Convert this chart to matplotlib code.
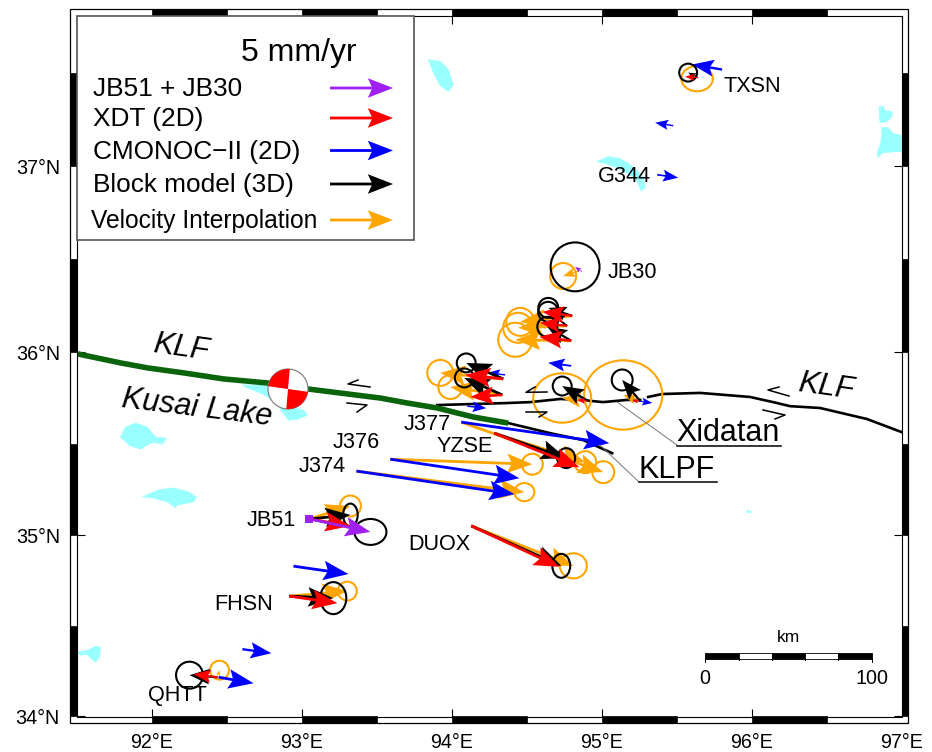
import numpy as np
import matplotlib
matplotlib.use("Agg")
import matplotlib.pyplot as plt
from matplotlib.collections import EllipseCollection
from matplotlib.patches import Circle, Polygon, Rectangle, Wedge
from matplotlib.transforms import IdentityTransform

plt.rcParams['font.family'] = ['Liberation Sans', 'DejaVu Sans']

# pixels per mm/yr for the vectors and error ellipses
SCALE = 12.6
PURPLE = '#a020f0'
ORANGE = '#ffa500'
LAKE = '#99ffff'
GREEN = '#0b640b'

# Velocity interpolation: JB51 FHSN QHTT J374 J376 J377 YZSE DUOX JB30 + near-fault sites, TXSN
orange_lon = [93.053, 92.919, 92.44, 93.366, 93.592, 94.065, 94.285, 94.132, 94.851,
              94.805, 94.771, 94.798, 94.345, 94.339, 94.911, 95.258, 95.644]
orange_lat = [35.09, 34.666, 34.218, 35.352, 35.417, 35.619, 35.559, 35.052, 36.438,
              36.196, 36.142, 36.061, 35.854, 35.767, 35.734, 35.734, 37.473]
orange_ve = [3.25, 4.60, 0.16, 13.33, 11.27, 11.27, 7.22, 8.10, -1.27,
             -4.13, -3.89, -4.44, -5.0, -4.13, -2.06, -1.35, -0.08]
orange_vn = [1.03, 0.40, 0.56, -1.67, -0.40, -3.97, -2.30, -3.17, -0.40,
             -0.48, -0.16, 0.08, 0.48, 0.63, 0.24, 0.48, -0.08]
orange_sx = [0.83, 0.75, 0.75, 0.79, 0.83, 0.87, 0.87, 1.07, 1.03,
             1.11, 1.19, 1.35, 1.03, 0.95, 2.3, 3.1, 1.25]
orange_sy = [0.83, 0.75, 0.75, 0.72, 0.83, 0.87, 0.87, 1.0, 1.03,
             1.11, 1.19, 1.35, 1.03, 0.95, 1.96, 2.75, 1.0]

# Block model (3D)
black_lon = [93.053, 92.919, 92.44, 94.285, 94.132, 94.805, 94.771, 94.798,
             94.345, 94.339, 94.911, 95.258, 95.644]
black_lat = [35.09, 34.666, 34.218, 35.559, 35.052, 36.196, 36.142, 36.061,
             35.854, 35.767, 35.734, 35.734, 37.473]
black_ve = [3.25, 3.49, -2.22, 5.71, 7.14, -1.90, -1.51, -1.90, -2.94, -3.02, -2.06, -1.43, -0.79]
black_vn = [0.32, -0.16, 0.16, -1.98, -3.17, 0.63, 1.11, 1.11, 1.27, 1.35, 1.19, 1.67, 0.40]
black_sx = [0.58, 1.03, 1.07, 0.71, 0.71, 0.79, 0.79, 0.79, 0.75, 0.75, 0.75, 0.83, 0.71]
black_sy = [0.90, 1.27, 1.07, 0.79, 0.95, 0.79, 0.79, 0.79, 0.75, 0.75, 0.75, 0.83, 0.71]

# XDT (2D)
red_lon = black_lon
red_lat = black_lat
red_ve = [3.25, 3.81, -1.90, 6.75, 6.98, -2.38, -2.14, -2.54, -3.02, -2.54, -0.87, -0.63, -1.03]
red_vn = [-0.56, -0.56, 0.24, -2.70, -3.25, 0.32, 0.24, 0.32, 0.32, -0.16, 0.08, 0.0, 0.08]

# CMONOC-II (2D)
blue_lon = [92.946, 92.606, 92.733, 92.447, 93.366, 93.592, 94.065, 94.358, 94.105,
            94.798, 95.245, 95.804, 95.478, 95.371]
blue_lat = [34.831, 34.373, 34.461, 34.218, 35.352, 35.417, 35.619, 35.876, 35.706,
            35.925, 35.734, 37.516, 37.217, 36.955]
blue_ve = [4.37, 2.30, 0.06, 2.78, 12.54, 10.24, 11.75, -1.43, 1.51, -1.83, 1.11, -2.38, -1.43, 1.67]
blue_vn = [-0.63, -0.32, 0.0, -0.48, -1.83, -1.51, -1.67, 0.16, -0.16, 0.24, -0.16, 0.40, 0.24, -0.24]

# JB51 + JB30
purple_lon = [93.053, 94.871]
purple_lat = [35.09, 36.433]
purple_ve = [4.84, -0.56]
purple_vn = [-1.03, 0.40]
purple_sx = [1.27, 1.94]
purple_sy = [1.03, 1.94]

# Faults
green_fault_lon = [91.507, 91.793, 91.973, 92.213, 92.480, 92.773, 93.046, 93.526, 93.706, 93.905, 94.145, 94.378]
green_fault_lat = [35.990, 35.941, 35.914, 35.887, 35.854, 35.832, 35.799, 35.750, 35.723, 35.696, 35.647, 35.614]
klf_a_lon = [93.905, 94.372, 94.525, 94.725, 94.858, 95.011, 95.171, 95.258]
klf_a_lat = [35.712, 35.723, 35.728, 35.745, 35.740, 35.728, 35.740, 35.740]
klf_b_lon = [95.311, 95.404, 95.658, 95.990, 96.144, 96.257, 96.457, 96.770, 97.0]
klf_b_lat = [35.756, 35.772, 35.778, 35.756, 35.728, 35.706, 35.696, 35.636, 35.565]
klpf_lon = [94.378, 94.658, 94.878, 95.071]
klpf_lat = [35.614, 35.559, 35.521, 35.450]

# Lakes
lakes = [
    ([93.845, 93.925, 93.979, 94.012, 93.979, 93.925, 93.885],
     [37.569, 37.559, 37.516, 37.436, 37.399, 37.431, 37.489]),
    ([94.971, 95.045, 95.125, 95.211, 95.278, 95.291, 95.264, 95.238, 95.191, 95.105, 95.025],
     [37.025, 37.052, 37.041, 36.998, 36.944, 36.885, 36.869, 36.918, 36.955, 36.993, 37.015]),
    ([96.850, 96.877, 96.890, 96.937, 96.937, 96.903, 96.857],
     [37.319, 37.319, 37.297, 37.292, 37.265, 37.239, 37.233]),
    ([96.870, 96.910, 96.943, 97.0, 97.0, 96.877, 96.843, 96.837, 96.863],
     [37.207, 37.207, 37.176, 37.165, 37.079, 37.074, 37.047, 37.068, 37.128]),
    ([92.606, 92.773, 92.926, 93.013, 93.039, 92.979, 92.913, 92.873, 92.813, 92.726, 92.626],
     [35.821, 35.821, 35.701, 35.685, 35.657, 35.636, 35.630, 35.674, 35.740, 35.777, 35.810]),
    ([91.793, 91.827, 91.893, 91.973, 92.027, 92.100, 92.073, 92.007, 91.947, 91.927, 91.860],
     [35.537, 35.592, 35.614, 35.592, 35.537, 35.532, 35.499, 35.510, 35.483, 35.472, 35.489]),
    ([91.940, 92.047, 92.147, 92.247, 92.300, 92.280, 92.173, 92.160, 92.107, 92.013],
     [35.211, 35.249, 35.260, 35.238, 35.210, 35.183, 35.167, 35.151, 35.183, 35.205]),
    ([91.507, 91.574, 91.627, 91.660, 91.654, 91.627, 91.594, 91.574, 91.527],
     [34.356, 34.367, 34.389, 34.384, 34.329, 34.301, 34.323, 34.345, 34.340]),
    ([95.964, 96.004, 95.977], [35.139, 35.128, 35.123]),
]

lon_ticks = [92, 93, 94, 95, 96, 97]
lat_ticks = [34, 35, 36, 37]
lon_labels = ['92°E', '93°E', '94°E', '95°E', '96°E', '97°E']
lat_labels = ['34°N', '35°N', '36°N', '37°N']

legend_names = ['JB51 + JB30', 'XDT (2D)', 'CMONOC\u2212II (2D)', 'Block model (3D)', 'Velocity Interpolation']
legend_colors = [PURPLE, 'red', 'blue', 'black', ORANGE]
legend_y = [88, 118, 150.5, 184, 220]
legend_text_x = [93, 93, 93, 93, 91]

arrow_style = dict(angles='uv', scale_units='dots', scale=1 / SCALE, units='dots', width=2.8,
                   headwidth=7, headlength=9, headaxislength=7.6, minshaft=1.4, minlength=0,
                   linewidth=0, pivot='tail')


def merc(lat):
    return np.log(np.tan(np.pi / 4 + np.radians(lat) / 2))


def merc_inv(y):
    return np.degrees(2 * np.arctan(np.exp(y)) - np.pi / 2)


fig = plt.figure(figsize=(9.32, 7.52), dpi=100)
ax = fig.add_axes([76.5 / 932, 35.5 / 752, 825 / 932, 700.5 / 752])
ax.set_xlim(91.5, 97)
ax.set_yscale('function', functions=(merc, merc_inv))
ax.set_ylim(34, 37.8)
ax.set_xticks(lon_ticks, lon_labels, fontsize=14.2)
ax.set_yticks(lat_ticks, lat_labels, fontsize=14.2)
ax.minorticks_off()
ax.tick_params(direction='in', length=5.8, width=0.8, top=True, right=True, pad=12)
for s in ax.spines.values():
    s.set_linewidth(0.8)

# full figure axes in pixels, y down, for frame, legend and annotations
ov = fig.add_axes([0, 0, 1, 1])
ov.set_xlim(0, 932)
ov.set_ylim(752, 0)
ov.axis('off')


def to_px(lon, lat):
    x, y = ax.transData.transform((lon, lat))
    return x, 752 - y


def vectors(lon, lat, ve, vn, color, z):
    ax.quiver(lon, lat, ve, vn, color=color, zorder=z, **arrow_style)


def ellipses(lon, lat, ve, vn, sx, sy, color, z):
    xy = ax.transData.transform(np.column_stack([lon, lat])) + SCALE * np.column_stack([ve, vn])
    ec = EllipseCollection(2 * SCALE * np.array(sx), 2 * SCALE * np.array(sy), np.zeros(len(sx)),
                           units='dots', offsets=xy, offset_transform=IdentityTransform(),
                           facecolors='none', edgecolors=color, linewidths=1.5, zorder=z)
    ax.add_collection(ec)


# lakes and faults
for la_lon, la_lat in lakes:
    ax.add_patch(Polygon(np.column_stack([la_lon, la_lat]), closed=True, fc=LAKE, ec=LAKE, lw=0.5, zorder=1))
ax.plot(klf_a_lon, klf_a_lat, color='k', lw=1.9, zorder=2)
ax.plot(klf_b_lon, klf_b_lat, color='k', lw=1.9, zorder=2)
ax.plot(klpf_lon, klpf_lat, color='k', lw=1.9, zorder=2)
ax.plot(green_fault_lon, green_fault_lat, color=GREEN, lw=4, solid_capstyle='butt', zorder=2)

# velocity fields
ellipses(orange_lon, orange_lat, orange_ve, orange_vn, orange_sx, orange_sy, ORANGE, 3)
vectors(orange_lon, orange_lat, orange_ve, orange_vn, ORANGE, 3)
vectors(blue_lon, blue_lat, blue_ve, blue_vn, 'blue', 4)
ellipses(black_lon, black_lat, black_ve, black_vn, black_sx, black_sy, 'black', 5)
vectors(black_lon, black_lat, black_ve, black_vn, 'black', 5)
vectors(red_lon, red_lat, red_ve, red_vn, 'red', 6)
ellipses(purple_lon, purple_lat, purple_ve, purple_vn, purple_sx, purple_sy, 'black', 7)
vectors(purple_lon, purple_lat, purple_ve, purple_vn, PURPLE, 7)
ax.scatter(purple_lon[:1], purple_lat[:1], marker='s', s=32, color=PURPLE, linewidths=0, zorder=8)

# map frame, alternating black and white every half degree
x_left, y_top = to_px(91.5, 37.8)
x_right, y_bot = to_px(97, 34)
ov.add_patch(Rectangle((x_left - 6.5, y_top - 6.5), x_right - x_left + 13, y_bot - y_top + 13,
                       fc='none', ec='k', lw=0.9))
for lon in np.arange(92, 97, 1.0):
    x0, _ = to_px(lon, 34)
    x1, _ = to_px(lon + 0.5, 34)
    ov.add_patch(Rectangle((x0, y_bot), x1 - x0, 6.5, fc='k', ec='k', lw=0.5))
    ov.add_patch(Rectangle((x0, y_top - 6.5), x1 - x0, 6.5, fc='k', ec='k', lw=0.5))
for lat in np.arange(34, 38, 1.0):
    _, y0 = to_px(91.5, lat)
    _, y1 = to_px(91.5, lat + 0.5)
    ov.add_patch(Rectangle((x_left - 6.5, y1), 6.5, y0 - y1, fc='k', ec='k', lw=0.5))
    ov.add_patch(Rectangle((x_right, y1), 6.5, y0 - y1, fc='k', ec='k', lw=0.5))

# legend box
ov.add_patch(Rectangle((77, 16), 337, 224, fc='white', ec='#555555', lw=1.2, zorder=10))
ov.text(299, 53, '5 mm/yr', fontsize=23, ha='center', va='center', zorder=11)
for name, col, yy, xx in zip(legend_names, legend_colors, legend_y, legend_text_x):
    ov.text(xx, yy + 1, name, fontsize=18.9 if xx == 93 else 17.7, ha='left', va='center', zorder=11)
    ov.quiver([330], [yy], [5], [0], color=col, zorder=11, **arrow_style)

# beach ball
ball = (288, 389)
ov.add_patch(Circle(ball, 20, fc='white', ec='#777777', lw=0.8, zorder=9))
ov.add_patch(Wedge(ball, 20, 188, 275, fc='red', ec='none', zorder=9))
ov.add_patch(Wedge(ball, 20, 8, 95, fc='red', ec='none', zorder=9))

# shear sense half arrows
for xs, ys in [([370, 348, 358], [387, 384, 380]), ([347, 367, 357], [403, 405, 412]),
               ([547, 526, 535], [392, 392.3, 387]), ([526, 547, 539], [412, 412, 417]),
               ([789, 768, 779], [396, 390, 387]), ([763, 785, 775], [410, 415, 419])]:
    ov.plot(xs, ys, color='k', lw=1.1, zorder=9)

# station and place labels
for txt, x, y in [('TXSN', 752, 86), ('G344', 624, 176), ('JB30', 632, 273), ('J377', 427, 425),
                  ('J376', 356, 442), ('J374', 322, 467), ('YZSE', 465, 446), ('DUOX', 439, 544),
                  ('JB51', 271, 520), ('FHSN', 244, 604), ('QHTT', 177, 695)]:
    ov.text(x, y, txt, fontsize=15.6, ha='center', va='center', zorder=12)
ov.text(181, 348, 'KLF', fontsize=22, style='italic', rotation=-8, ha='center', va='center', zorder=12)
ov.text(197, 408, 'Kusai Lake', fontsize=22, style='italic', rotation=-7, ha='center', va='center', zorder=12)
ov.text(826, 387, 'KLF', fontsize=22, style='italic', rotation=-8, ha='center', va='center', zorder=12)

ov.text(728, 433, 'Xidatan', fontsize=22, ha='center', va='center', zorder=12)
ov.plot([617, 677], [402, 445], color='#777777', lw=0.7, zorder=9)
ov.plot([677, 781], [446, 446], color='k', lw=1.1, zorder=12)
ov.text(677, 470, 'KLPF', fontsize=22, ha='center', va='center', zorder=12)
ov.plot([600, 639], [445, 482], color='#777777', lw=0.7, zorder=9)
ov.plot([639, 717], [482, 482], color='k', lw=1.1, zorder=12)

# scale bar
bar_edges = [705, 739, 772, 805, 838, 872]
for i in range(5):
    ov.add_patch(Rectangle((bar_edges[i], 653), bar_edges[i + 1] - bar_edges[i], 5.5,
                           fc='k' if i % 2 == 0 else 'white', ec='k', lw=0.6, zorder=9))
for i, xx in enumerate(bar_edges):
    ov.plot([xx, xx], [658, 662 if i in (0, 5) else 660], color='k', lw=0.7, zorder=9)
ov.text(788, 638, 'km', fontsize=12.5, ha='center', va='center')
ov.text(705, 679, '0', fontsize=14.2, ha='center', va='center')
ov.text(872, 679, '100', fontsize=14.2, ha='center', va='center')

fig.savefig('out.png', dpi=100)
